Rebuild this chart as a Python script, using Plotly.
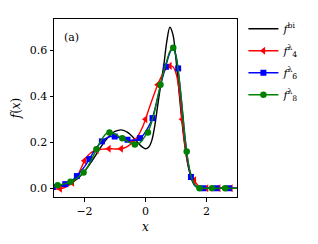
import plotly.graph_objects as go

# common grid for the smooth curves
x_grid = [-3.0, -2.9, -2.8, -2.7, -2.6, -2.5, -2.4, -2.3, -2.2, -2.1,
          -2.0, -1.9, -1.8, -1.7, -1.6, -1.5, -1.4, -1.3, -1.2, -1.1,
          -1.0, -0.9, -0.8, -0.7, -0.6, -0.5, -0.4, -0.3, -0.2, -0.1,
          0.0, 0.1, 0.2, 0.3, 0.4, 0.5, 0.6, 0.7, 0.8, 0.9,
          1.0, 1.1, 1.2, 1.3, 1.4, 1.5, 1.6, 1.7, 1.8, 1.9,
          2.0, 2.1, 2.2, 2.3, 2.4, 2.5, 2.6, 2.7, 2.8, 2.9, 3.0]

f_bi = [0.004, 0.005, 0.007, 0.010, 0.014, 0.019, 0.026, 0.035, 0.046, 0.059,
        0.074, 0.091, 0.110, 0.130, 0.151, 0.172, 0.192, 0.210, 0.225, 0.238,
        0.247, 0.252, 0.254, 0.251, 0.244, 0.234, 0.221, 0.206, 0.191, 0.179,
        0.172, 0.178, 0.205, 0.268, 0.360, 0.450, 0.535, 0.640, 0.700, 0.668,
        0.560, 0.420, 0.285, 0.175, 0.095, 0.045, 0.018, 0.006, 0.002, 0.0,
        0.0, 0.0, 0.0, 0.0, 0.0, 0.0, 0.0, 0.0, 0.0, 0.0, 0.0]

f4 = [-0.002, -0.003, -0.002, 0.001, 0.006, 0.013, 0.024, 0.040, 0.062, 0.090,
      0.120, 0.140, 0.153, 0.161, 0.165, 0.168, 0.170, 0.171, 0.172, 0.172,
      0.171, 0.171, 0.172, 0.175, 0.181, 0.190, 0.202, 0.218, 0.238, 0.265,
      0.300, 0.340, 0.378, 0.415, 0.450, 0.480, 0.505, 0.523, 0.532, 0.528,
      0.500, 0.430, 0.300, 0.180, 0.100, 0.058, 0.035, 0.015, 0.004, 0.0,
      0.0, 0.0, 0.0, 0.0, 0.0, 0.0, 0.0, 0.0, 0.0, 0.0, 0.0]

f6 = [0.006, 0.008, 0.011, 0.015, 0.020, 0.027, 0.036, 0.047, 0.061, 0.077,
      0.094, 0.114, 0.136, 0.158, 0.178, 0.195, 0.208, 0.217, 0.223, 0.226,
      0.225, 0.222, 0.218, 0.214, 0.211, 0.209, 0.209, 0.211, 0.216, 0.227,
      0.245, 0.268, 0.296, 0.340, 0.395, 0.450, 0.500, 0.548, 0.590, 0.610,
      0.575, 0.480, 0.350, 0.215, 0.110, 0.045, 0.014, 0.003, 0.0, 0.0,
      0.0, 0.0, 0.0, 0.0, 0.0, 0.0, 0.0, 0.0, 0.0, 0.0, 0.0]

f8 = [0.010, 0.012, 0.015, 0.018, 0.021, 0.026, 0.032, 0.040, 0.049, 0.060,
      0.073, 0.093, 0.117, 0.144, 0.172, 0.198, 0.220, 0.236, 0.243, 0.241,
      0.235, 0.228, 0.220, 0.213, 0.205, 0.197, 0.191, 0.190, 0.196, 0.210,
      0.230, 0.250, 0.287, 0.335, 0.395, 0.455, 0.510, 0.555, 0.595, 0.611,
      0.575, 0.480, 0.355, 0.215, 0.115, 0.050, 0.016, 0.004, 0.0, 0.0,
      0.0, 0.0, 0.0, 0.0, 0.0, 0.0, 0.0, 0.0, 0.0, 0.0, 0.0]

# marker samples
f4_mx = [-2.8, -2.4, -2.0, -1.6, -1.2, -0.8, -0.4, 0.0, 0.4, 0.8, 1.2, 1.6, 2.0, 2.4, 2.8]
f4_my = [-0.002, 0.024, 0.120, 0.165, 0.172, 0.172, 0.202, 0.300, 0.450, 0.532, 0.300, 0.035, 0.0, 0.0, 0.0]

f6_mx = [-3.04, -2.63, -2.25, -1.84, -1.43, -1.01, -0.59, -0.18, 0.23, 0.67, 1.07, 1.49, 1.90, 2.32, 2.73]
f6_my = [0.006, 0.018, 0.053, 0.127, 0.204, 0.225, 0.211, 0.218, 0.305, 0.528, 0.521, 0.049, 0.0, 0.0, 0.0]

f8_mx = [-2.88, -2.46, -2.03, -1.61, -1.18, -0.76, -0.35, 0.08, 0.49, 0.91, 1.35, 1.77, 2.18, 2.61]
f8_my = [0.013, 0.028, 0.068, 0.170, 0.243, 0.218, 0.190, 0.242, 0.450, 0.611, 0.160, 0.0, 0.0, 0.0]

x_ticks = [-2, 0, 2]
y_ticks = [0.0, 0.2, 0.4, 0.6]

FONT = "DejaVu Serif"
LW = 1.4

fig = go.Figure()

fig.add_trace(go.Scatter(x=x_grid, y=f_bi, mode="lines", line=dict(color="black", width=LW, shape="spline"),
                         name="<i>f</i><sup>bi</sup>", showlegend=True, legendgroup="bi"))

series = [
    ("<i>f</i><sup>λ</sup><sub>4</sub>", f4, f4_mx, f4_my, "#ff0000", "triangle-left", 7),
    ("<i>f</i><sup>λ</sup><sub>6</sub>", f6, f6_mx, f6_my, "#0000ff", "square", 6),
    ("<i>f</i><sup>λ</sup><sub>8</sub>", f8, f8_mx, f8_my, "#008000", "circle", 6.5),
]
for name, ys, mx, my, col, sym, ms in series:
    fig.add_trace(go.Scatter(x=x_grid, y=ys, mode="lines", line=dict(color=col, width=LW, shape="spline"),
                             showlegend=False, legendgroup=name))
    fig.add_trace(go.Scatter(x=mx, y=my, mode="markers", marker=dict(color=col, symbol=sym, size=ms, line=dict(width=0)),
                             showlegend=False, legendgroup=name))
    fig.add_trace(go.Scatter(x=[None], y=[None], mode="lines+markers", name=name, legendgroup=name,
                             line=dict(color=col, width=LW),
                             marker=dict(color=col, symbol=sym, size=ms, line=dict(width=0))))

axis_common = dict(showline=True, linecolor="black", linewidth=1, mirror=True, ticks="outside",
                   ticklen=3.5, tickwidth=0.8, tickcolor="black", showgrid=False, zeroline=False,
                   automargin=False, tickfont=dict(family=FONT, size=11, color="black"))

fig.update_xaxes(range=[-3, 3], tickvals=x_ticks, ticktext=["\u22122", "0", "2"],
                 title=dict(text="<i>x</i>", font=dict(family=FONT, size=12, color="black"), standoff=5),
                 **axis_common)
fig.update_yaxes(range=[-0.038, 0.736], tickvals=y_ticks, ticktext=["0.0", "0.2", "0.4", "0.6"],
                 title=dict(text="<i>f</i>(<i>x</i>)", font=dict(family=FONT, size=12, color="black"), standoff=6),
                 **axis_common)

fig.add_annotation(x=-2.41, y=0.656, text="(a)", showarrow=False, xref="x", yref="y",
                   font=dict(family=FONT, size=11, color="black"))

# the page body has an 8px default margin, so the figure is shrunk and shifted to compensate
fig.update_layout(
    width=310, height=236,
    margin=dict(l=46, r=81, t=6, b=47),
    plot_bgcolor="white", paper_bgcolor="white",
    font=dict(family=FONT, size=11, color="black"),
    legend=dict(x=1.035, y=1.027, xanchor="left", yanchor="top", bgcolor="rgba(0,0,0,0)",
                font=dict(family=FONT, size=11, color="black"), tracegroupgap=3, itemwidth=30),
)

fig.write_html("out.html")
